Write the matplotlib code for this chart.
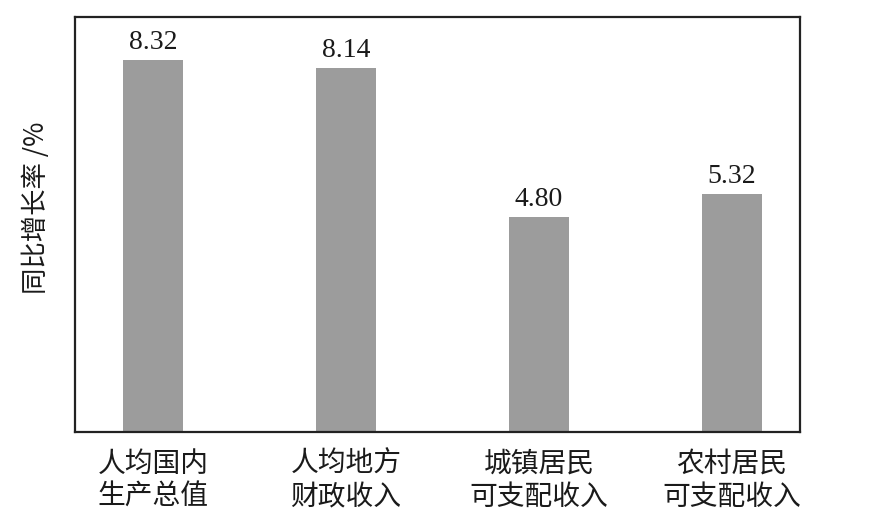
import matplotlib.pyplot as plt
import numpy as np

categories = ['人均国内\n生产总值', '人均地方\n财政收入', '城镇居民\n可支配收入', '农村居民\n可支配收入']
growth = [8.32, 8.14, 4.80, 5.32]
value_labels = ['8.32', '8.14', '4.80', '5.32']

plt.rcParams['font.family'] = ['Noto Sans CJK SC', 'DejaVu Sans']

fig = plt.figure(figsize=(8.83, 5.24), dpi=100)
# axes box in pixels: left 75, right 800, top 17, bottom 432
ax = fig.add_axes([75 / 883, 1 - 432 / 524, 725 / 883, 415 / 524])

x = np.arange(len(categories))
bars = ax.bar(x, growth, width=0.31, color='#9c9c9c', zorder=2)

for bar, lab in zip(bars, value_labels):
    ax.text(bar.get_x() + bar.get_width() / 2, bar.get_height() + 0.12, lab,
            ha='center', va='bottom', fontsize=20, family='Liberation Serif', color='#1a1a1a')

ax.set_xlim(-0.404, 3.352)
ax.set_ylim(0, 9.28)
ax.set_yticks([])
ax.set_xticks(x)
ax.set_xticklabels(categories, fontsize=20, color='#1a1a1a', linespacing=1.15)
ax.tick_params(axis='x', length=0, pad=12)

for side in ['left', 'right', 'top', 'bottom']:
    ax.spines[side].set_linewidth(1.6)
    ax.spines[side].set_color('#222222')

ax.set_ylabel('同比增长率 /%', fontsize=19, color='#1a1a1a')
ax.yaxis.set_label_coords(-0.035, 0.54)

fig.savefig('out.png', dpi=100)
